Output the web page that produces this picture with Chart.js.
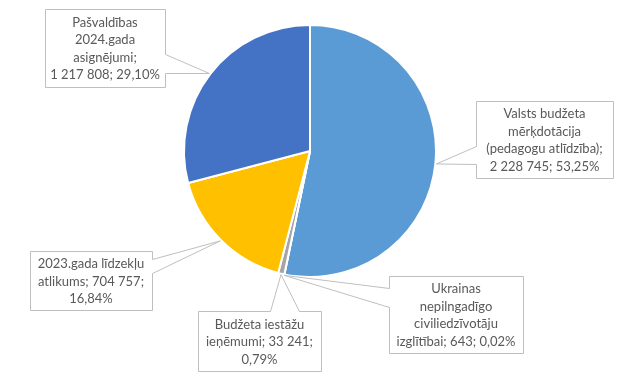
<!DOCTYPE html>
<html>
<head>
<meta charset="utf-8">
<script src="https://cdn.jsdelivr.net/npm/chart.js@4"></script>
<style>
html,body{margin:0;padding:0;background:#fff;}
#wrap{width:643px;height:379px;position:relative;}
</style>
</head>
<body>
<div id="wrap"><canvas id="c" width="643" height="379"></canvas></div>
<script>
// ---- data ----
const categories = [
  "Valsts budžeta mērķdotācija (pedagogu atlīdzība)",
  "Ukrainas nepilngadīgo civiliedzīvotāju izglītībai",
  "Budžeta iestāžu ieņēmumi",
  "2023.gada līdzekļu atlikums",
  "Pašvaldības 2024.gada asignējumi"
];
const values = [2228745, 643, 33241, 704757, 1217808];
const colors = ["#5B9BD5", "#ED7D31", "#A5A5A5", "#FFC000", "#4472C4"];
// label text lines ({v} = value, {p} = percent)
const labelLines = [
  ["Valsts budžeta", "mērķdotācija", "(pedagogu atlīdzība);", "{v}; {p}"],
  ["Ukrainas", "nepilngadīgo", "civiliedzīvotāju", "izglītībai; {v}; {p}"],
  ["Budžeta iestāžu", "ieņēmumi; {v};", "{p}"],
  ["2023.gada līdzekļu", "atlikums; {v};", "{p}"],
  ["Pašvaldības", "2024.gada", "asignējumi;", "{v}; {p}"]
];

// ---- callout layout (box: x1,y1,x2,y2; side of pointer; opening a..b along that side) ----
const callouts = [
  {box:[476,101,613,178], side:"left",  a:146, b:164},
  {box:[389,276,523,353], side:"left",  a:288, b:307},
  {box:[198,311,321,371], side:"top",   a:270, b:299},
  {box:[30,251,152,310],  side:"right", a:259, b:273},
  {box:[45,9,165,87],     side:"right", a:54,  b:73}
];

function fmtNum(n){ return String(n).replace(/\B(?=(\d{3})+(?!\d))/g, " "); }
function fmtPct(v,total){ return (v/total*100).toFixed(2).replace(".", ",") + "%"; }

const calloutPlugin = {
  id: "callouts",
  afterDatasetsDraw(chart){
    const ctx = chart.ctx;
    const meta = chart.getDatasetMeta(0);
    const total = values.reduce((s,v)=>s+v,0);
    ctx.save();
    meta.data.forEach((arc, i) => {
      const c = callouts[i];
      const p = arc.getProps(["x","y","startAngle","endAngle","outerRadius"], true);
      const mid = (p.startAngle + p.endAngle)/2;
      const ax = p.x + Math.cos(mid)*(p.outerRadius+1);
      const ay = p.y + Math.sin(mid)*(p.outerRadius+1);
      let [x1,y1,x2,y2] = c.box;
      x1+=0.5; y1+=0.5; x2+=0.5; y2+=0.5;
      ctx.beginPath();
      ctx.moveTo(x1,y1);
      if(c.side==="top"){
        ctx.lineTo(c.a+0.5,y1); ctx.lineTo(ax,ay); ctx.lineTo(c.b+0.5,y1);
      }
      ctx.lineTo(x2,y1);
      if(c.side==="right"){
        ctx.lineTo(x2,c.a+0.5); ctx.lineTo(ax,ay); ctx.lineTo(x2,c.b+0.5);
      }
      ctx.lineTo(x2,y2);
      ctx.lineTo(x1,y2);
      if(c.side==="left"){
        ctx.lineTo(x1,c.b+0.5); ctx.lineTo(ax,ay); ctx.lineTo(x1,c.a+0.5);
      }
      ctx.closePath();
      ctx.fillStyle = "#ffffff";
      ctx.fill();
      ctx.strokeStyle = "#BFBFBF";
      ctx.lineWidth = 1;
      ctx.stroke();
      // text
      const lines = labelLines[i].map(s => s.replace("{v}", fmtNum(values[i])).replace("{p}", fmtPct(values[i], total)));
      const lh = 17.5;
      const cx = (c.box[0]+c.box[2])/2;
      const cy = (c.box[1]+c.box[3])/2 + 1;
      ctx.fillStyle = "#595959";
      ctx.font = "13px Lato, 'Open Sans', sans-serif";
      ctx.textAlign = "center";
      ctx.textBaseline = "middle";
      lines.forEach((ln, k) => {
        ctx.fillText(ln, cx, cy + (k - (lines.length-1)/2)*lh);
      });
    });
    ctx.restore();
  }
};

new Chart(document.getElementById("c"), {
  type: "pie",
  data: {
    labels: categories,
    datasets: [{
      data: values,
      backgroundColor: colors,
      borderColor: "#ffffff",
      borderWidth: 2
    }]
  },
  options: {
    responsive: false,
    animation: false,
    radius: 126,
    layout: { padding: { left: 0, right: 23, top: 0, bottom: 77 } },
    plugins: { legend: { display: false }, tooltip: { enabled: false } }
  },
  plugins: [calloutPlugin]
});
</script>
</body>
</html>
